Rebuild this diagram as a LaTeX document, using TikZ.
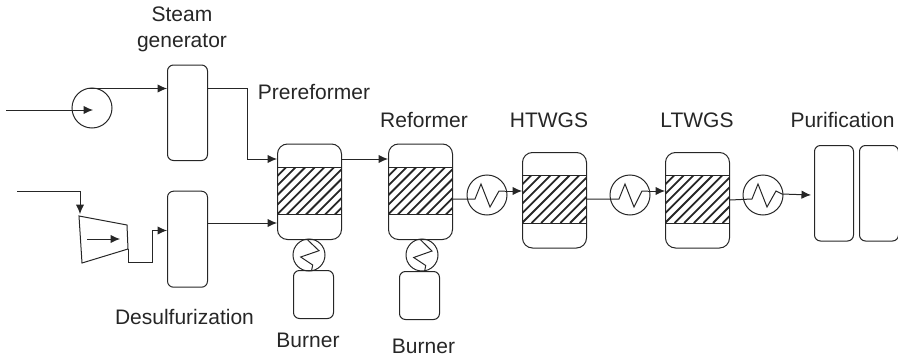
\documentclass[tikz,border=0pt]{standalone}
\usepackage{fontspec}
\setmainfont{Liberation Sans}
\usetikzlibrary{arrows.meta}
\tikzset{
  x=1pt,y=-1pt,
  line/.style={line width=1pt,draw=black!85},
  flow/.style={line,-{Latex[length=9.5pt,width=8.5pt]}},
  vessel/.style={line,rounded corners=6pt},
  lbl/.style={font=\fontsize{21}{26}\selectfont,text=black!85,inner sep=0pt,align=center},
}
\newcommand{\reactor}[6]{%
  \node[vessel,draw,minimum width=#3pt-#2pt,minimum height=95.5pt,inner sep=0pt,anchor=north west,rounded corners=10pt] (#1) at (#2,#4) {};
  \begin{scope}
    \clip (#2,#5) rectangle (#3,#6);
    \foreach \k in {-6,...,10}{
      \draw[line width=1.8pt,draw=black!85] ({#2+\k*9.6},#6) -- ({#2+\k*9.6+60},#6-60);
    }
  \end{scope}
  \draw[line] (#2,#5) rectangle (#3,#6);
}
\begin{document}
\begin{tikzpicture}
\useasboundingbox (0,0) rectangle (898,356);
\reactor{pre}{277}{341}{143.5}{167.7}{214.7}
\reactor{ref}{388}{452}{143.5}{167.7}{214.7}
\reactor{ht}{522}{586}{152}{175}{223}
\reactor{lt}{665}{729}{152}{175}{223}
\node[vessel,draw,minimum width=40pt,minimum height=95.5pt,inner sep=0pt,anchor=north west] (steam) at (167,64.5) {};
\node[vessel,draw,minimum width=40pt,minimum height=96pt,inner sep=0pt,anchor=north west] (desul) at (167,190.7) {};
\node[vessel,draw,minimum width=39pt,minimum height=95.5pt,inner sep=0pt,anchor=north west] (puA) at (814,145) {};
\node[vessel,draw,minimum width=39pt,minimum height=95.5pt,inner sep=0pt,anchor=north west] (puB) at (859,145) {};
\node[vessel,draw,minimum width=40pt,minimum height=48pt,inner sep=0pt,anchor=north west] (bu1) at (293,270) {};
\node[vessel,draw,minimum width=40pt,minimum height=48pt,inner sep=0pt,anchor=north west] (bu2) at (399,271) {};
\node[line,draw,circle,minimum size=40pt,inner sep=0pt] (pump) at (92,108) {};
\node[line,draw,circle,minimum size=40pt,inner sep=0pt] (hx1) at (487,195) {};
\node[line,draw,circle,minimum size=40pt,inner sep=0pt] (hx2) at (630,195) {};
\node[line,draw,circle,minimum size=40pt,inner sep=0pt] (hx3) at (763,195) {};
\node[line,draw,circle,minimum size=32pt,inner sep=0pt] (hb1) at (309,255) {};
\node[line,draw,circle,minimum size=32pt,inner sep=0pt] (hb2) at (422,255) {};
% compressor
\draw[line] (79,216) coordinate (cA) -- (127,225) coordinate (cB) -- (128,249) coordinate (cC) -- (82,263) coordinate (cD) -- cycle;
% feeds
\coordinate (f1) at (6,110);
\coordinate (p1) at (93,110);
\draw[flow] (f1) -- (p1);
\coordinate (f2) at (17,191.5);
\coordinate (c2) at (80,214);
\draw[flow] (f2) -| (c2);
\coordinate (ci) at (87,239);
\coordinate (co) at (120,239);
\draw[flow] (ci) -- (co);
\coordinate (ptop) at (88,88.5);
\draw[flow] (ptop) -- (steam.west |- ptop);
\coordinate (s1) at (steam.east |- ptop);
\coordinate (s2) at (247,88.5);
\coordinate (s3) at (247,159);
\draw[flow] (s1) -- (s2) -- (s3) -- (pre.west |- s3);
\coordinate (k1) at (128,262.5);
\coordinate (k2) at (152,262.5);
\coordinate (k3) at (152,230.5);
\draw[flow] (cC) -- (k1) -- (k2) -- (k3) -- (desul.west |- k3);
\coordinate (d1) at (desul.east |- 0,223);
\draw[flow] (d1) -- (pre.west |- d1);
\coordinate (r1) at (pre.east |- 0,159);
\draw[flow] (r1) -- (ref.west |- r1);
% exchangers
\draw[line] (ref.east |- 0,199) -- (475,199) -- (481,184) -- (490,207) -- (499,191) -- (505,191);
\draw[flow] (505,191) -- (ht.west |- 0,191);
\draw[line] (ht.east |- 0,199) -- (619,199) -- (625,184) -- (634,207) -- (642,191) -- (648,191);
\draw[flow] (648,191) -- (lt.west |- 0,191);
\draw[line] (lt.east |- 0,200) -- (752,199) -- (758,184) -- (767,207) -- (776,191) -- (782,194);
\draw[flow] (782,194) -- (811,195);
% burner heaters
\draw[line] (307.7,240) -- (319,250.7) -- (300.7,257) -- (312.7,265) -- (311.7,270);
\draw[line] (420.7,240) -- (432,251) -- (413.7,257.5) -- (425.7,265.5) -- (424.7,271);
% labels
\node[lbl] (l1) at (182,29) {Steam\\generator};
\node[lbl] (l2) at (314,92) {Prereformer};
\node[lbl] (l3) at (424,120) {Reformer};
\node[lbl] (l4) at (549,120) {HTWGS};
\node[lbl] (l5) at (697,120) {LTWGS};
\node[lbl] (l6) at (842.5,120) {Purification};
\node[lbl] (l7) at (184.5,317) {Desulfurization};
\node[lbl] (l8) at (308,340) {Burner};
\node[lbl] (l9) at (423.5,346) {Burner};
\end{tikzpicture}
\end{document}
